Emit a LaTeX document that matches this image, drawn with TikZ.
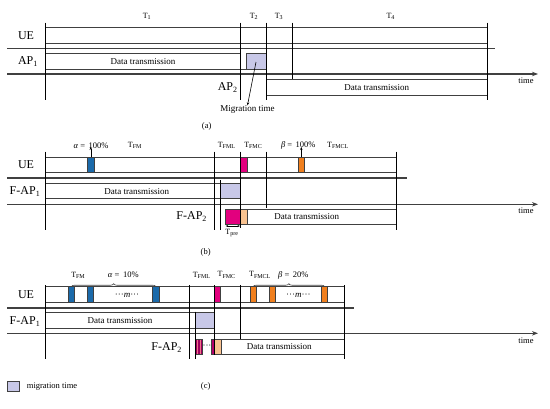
\documentclass[tikz,border=0pt]{standalone}
\usepackage{fontspec}
\setmainfont{Liberation Serif}
\usetikzlibrary{arrows.meta,decorations.pathreplacing}
\definecolor{lav}{HTML}{C8C8E8}
\definecolor{blu}{HTML}{1B6AAA}
\definecolor{mag}{HTML}{E2007E}
\definecolor{org}{HTML}{F07F1E}
\definecolor{pch}{HTML}{F8C290}
\definecolor{dmag}{HTML}{A0005E}
\definecolor{ln}{HTML}{404040}
\tikzset{
  boxline/.style={draw=ln,line width=0.7pt},
  thickline/.style={draw=ln,line width=1.6pt},
  axis/.style={draw=ln,line width=1.2pt,-{Stealth[length=6pt,width=4.5pt]}},
  vline/.style={draw=black,line width=0.8pt},
  rowlbl/.style={inner sep=0pt,font=\fontsize{12}{12}\selectfont},
  tlbl/.style={inner sep=0pt,font=\fontsize{8}{8}\selectfont},
  dlbl/.style={inner sep=0pt,font=\fontsize{9}{9}\selectfont},
  captxt/.style={inner sep=0pt,font=\fontsize{8.5}{8.5}\selectfont},
  migbox/.style={fill=lav,draw=ln,line width=0.7pt},
  colbox/.style={draw=ln,line width=0.5pt},
  smallarrow/.style={draw=black,line width=0.6pt,-{Stealth[length=3pt,width=2.5pt]}},
  brc/.style={draw=ln,line width=0.6pt,decorate,decoration={brace,amplitude=3pt}}
}
\begin{document}
\begin{tikzpicture}[x=1pt,y=-1pt]
\useasboundingbox (0,0) rectangle (550,408);
% ================= (a) =================
\draw[boxline] (45.7,27.3) rectangle (487,43.3);
\draw[thickline] (7,48.3) -- (495,48.3);
\draw[boxline] (45.7,53.3) rectangle (240.7,69.3);
\draw[boxline] (240.7,69.3) -- (246.7,69.3);
\node[migbox,minimum width=19.8pt,minimum height=16pt,inner sep=0pt] (amig) at (256.6,61.3) {};
\draw[axis] (7,74) -- (538,74);
\draw[boxline] (266.5,79) rectangle (487,95);
\draw[vline] (45.7,22.7) -- (45.7,100);
\draw[vline] (240.7,22.7) -- (240.7,100);
\draw[vline] (266.5,22.7) -- (266.5,100);
\draw[vline] (292.3,22.7) -- (292.3,79);
\draw[vline] (487,22.7) -- (487,100);
\node[tlbl] (aT1) at (147,16.7) {T\textsubscript{1}};
\node[tlbl] (aT2) at (254,16.7) {T\textsubscript{2}};
\node[tlbl] (aT3) at (279,16.7) {T\textsubscript{3}};
\node[tlbl] (aT4) at (390.7,16.7) {T\textsubscript{4}};
\node[rowlbl] (aUE) at (26,35.5) {UE};
\node[rowlbl] (aAP1) at (28,61.3) {AP\textsubscript{1}};
\node[rowlbl] (aAP2) at (227.7,87.3) {AP\textsubscript{2}};
\node[dlbl] (ad1) at (143,61.5) {Data transmission};
\node[dlbl] (ad2) at (376.7,87.5) {Data transmission};
\node[dlbl] (amt) at (247.5,109.5) {Migration time};
\draw[smallarrow] (256,62) -- (amt.north);
\node[captxt] (atime) at (526,81) {time};
\node[captxt] (acap) at (206.7,126) {(a)};
% ================= (b) =================
\draw[boxline] (45.7,157.3) rectangle (396,172.3);
\draw[thickline] (7,177.7) -- (406.7,177.7);
\draw[boxline] (45.7,183.3) rectangle (220.7,198.7);
\draw[migbox] (220.7,183.3) rectangle (240,198.7);
\draw[axis] (7,204.3) -- (538,204.3);
\draw[colbox,fill=mag] (225.7,209) rectangle (240,224.3);
\draw[colbox,fill=pch] (240,209) rectangle (247,224.3);
\draw[boxline] (247,209) rectangle (396,224.3);
\draw[colbox,fill=blu] (87.3,157.3) rectangle (94.3,172.3);
\draw[colbox,fill=mag] (240.7,157.3) rectangle (247.3,172.3);
\draw[colbox,fill=org] (298.3,157.3) rectangle (304.3,172.3);
\draw[vline] (45.7,151.7) -- (45.7,230);
\draw[vline] (214.3,151.7) -- (214.3,230);
\draw[vline] (220.7,180) -- (220.7,230);
\draw[vline] (240,151.7) -- (240,228);
\draw[vline] (266,151.7) -- (266,208.3);
\draw[vline] (396,151.7) -- (396,230);
\node[tlbl,font=\fontsize{8.5}{8.5}\selectfont] (balpha) at (91,145.7) {\textit{α} = \,100\%};
\draw[smallarrow] (90.8,157.3) -- (90.8,147);
\node[tlbl] (bTFM) at (135,145.7) {T\textsubscript{FM}};
\node[tlbl] (bTFML) at (226.7,145.7) {T\textsubscript{FML}};
\node[tlbl] (bTFMC) at (253.3,145.7) {T\textsubscript{FMC}};
\node[tlbl,font=\fontsize{8.5}{8.5}\selectfont] (bbeta) at (298.3,145.7) {\textit{β} = \,100\%};
\draw[smallarrow] (301.3,157.3) -- (301.3,147);
\node[tlbl] (bTFMCL) at (338,145.7) {T\textsubscript{FMCL}};
\coordinate (bp1) at (225.7,226);
\coordinate (bp2) at (240,226);
\draw[draw=black,line width=0.5pt,{Stealth[length=2.5pt,width=2pt]}-{Stealth[length=2.5pt,width=2pt]}] (bp1) -- (bp2);
\node[tlbl] (bTpre) at (232,233.5) {T\textsubscript{pre}};
\node[rowlbl] (bUE) at (26,165) {UE};
\node[rowlbl] (bAP1) at (25,191.7) {F-AP\textsubscript{1}};
\node[rowlbl] (bAP2) at (191.7,216.7) {F-AP\textsubscript{2}};
\node[dlbl] (bd1) at (136.7,191.7) {Data transmission};
\node[dlbl] (bd2) at (306.7,216.7) {Data transmission};
\node[captxt] (btime) at (526,211) {time};
\node[captxt] (bcap) at (205.7,252.3) {(b)};
% ================= (c) =================
\draw[boxline] (45.7,286.7) rectangle (344.3,302.7);
\draw[thickline] (7,307.7) -- (354.3,307.7);
\draw[boxline] (45.7,312.7) rectangle (195,328.7);
\draw[migbox] (195,312.7) rectangle (214.3,328.7);
\draw[axis] (7,333.3) -- (538,333.3);
\draw[colbox,fill=dmag] (195.3,339) rectangle (202,354.5);
\draw[draw=pch!60!mag,line width=0.6pt] (197.5,339.5) -- (197.5,354);
\draw[draw=pch!60!mag,line width=0.6pt] (199.8,339.5) -- (199.8,354);
\node[dlbl] (cdots) at (207,347) {···};
\draw[colbox,fill=dmag!70!mag] (211.7,339) rectangle (214.3,354.5);
\draw[colbox,fill=pch] (214.3,339) rectangle (221,354.5);
\draw[boxline] (221,339) rectangle (344.3,354.5);
\foreach \xa/\xb in {68.3/74.3, 87.7/93.7, 152.7/159.3}
  \draw[colbox,fill=blu] (\xa,286.7) rectangle (\xb,302.7);
\draw[colbox,fill=mag] (214.3,286.7) rectangle (220.7,302.7);
\foreach \xa/\xb in {250/256, 269.3/275.3, 321.7/327.7}
  \draw[colbox,fill=org] (\xa,286.7) rectangle (\xb,302.7);
\draw[vline] (45.7,285) -- (45.7,359.3);
\draw[vline] (189,285) -- (189,359.3);
\draw[vline] (195,311.7) -- (195,359.3);
\draw[vline] (214.3,285) -- (214.3,355);
\draw[vline] (240,285) -- (240,339);
\draw[vline] (344.3,285) -- (344.3,359.3);
\node[dlbl] (cm1) at (127,295) {···\textit{m}···};
\node[dlbl] (cm2) at (298.3,295) {···\textit{m}···};
\coordinate (cb1a) at (71.3,286.7);
\coordinate (cb1b) at (156,286.7);
\coordinate (cb2a) at (253,286.7);
\coordinate (cb2b) at (324.7,286.7);
\draw[brc] (cb1a) -- (cb1b);
\draw[brc] (cb2a) -- (cb2b);
\node[tlbl] (cTFM) at (78.3,275) {T\textsubscript{FM}};
\node[tlbl,font=\fontsize{8.5}{8.5}\selectfont] (calpha) at (123.3,275) {\textit{α} = \,10\%};
\node[tlbl] (cTFML) at (201.7,275) {T\textsubscript{FML}};
\node[tlbl] (cTFMC) at (226.7,275) {T\textsubscript{FMC}};
\node[tlbl] (cTFMCL) at (260,275) {T\textsubscript{FMCL}};
\node[tlbl,font=\fontsize{8.5}{8.5}\selectfont] (cbeta) at (293.3,275) {\textit{β} = \,20\%};
\node[rowlbl] (cUE) at (26,295) {UE};
\node[rowlbl] (cAP1) at (25,321.7) {F-AP\textsubscript{1}};
\node[rowlbl] (cAP2) at (166.7,347.3) {F-AP\textsubscript{2}};
\node[dlbl] (cd1) at (120,320.7) {Data transmission};
\node[dlbl] (cd2) at (279.3,346.7) {Data transmission};
\node[captxt] (ctime) at (526,341) {time};
\node[captxt] (ccap) at (205.7,386.7) {(c)};
% legend
\node[migbox,minimum width=11.7pt,minimum height=10.7pt,inner sep=0pt] (leg) at (13.2,386.3) {};
\node[captxt,anchor=west] (legtxt) at (26.7,387) {migration time};
\end{tikzpicture}
\end{document}
